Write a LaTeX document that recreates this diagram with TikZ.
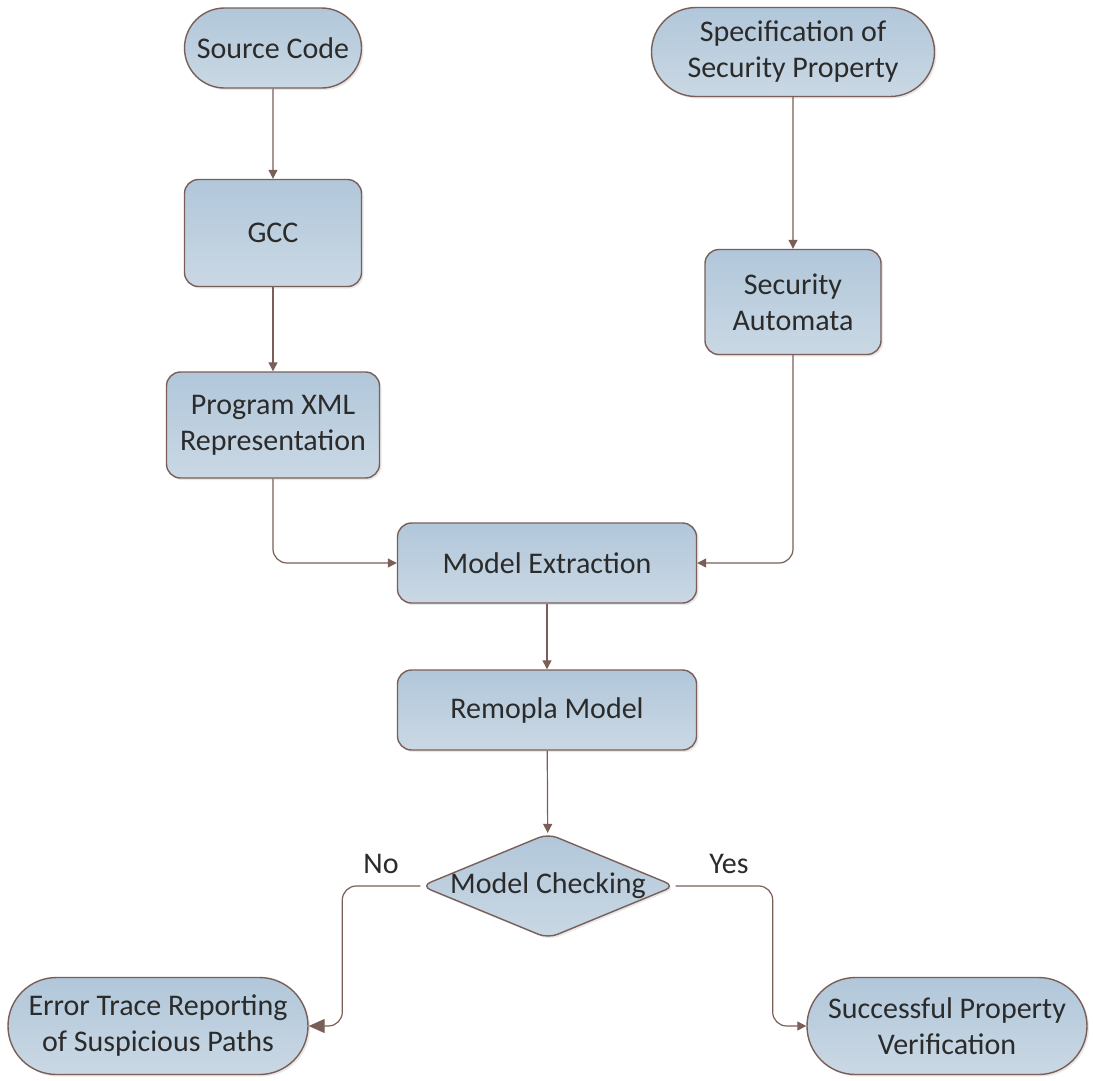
\documentclass[tikz,border=0pt]{standalone}
\usepackage{fontspec}
\setmainfont{Carlito}
\usetikzlibrary{shapes.misc,shapes.geometric,arrows.meta,shadows}
\definecolor{edgebrown}{HTML}{7A5F58}
\definecolor{fillTop}{HTML}{B1C7DA}
\definecolor{fillBot}{HTML}{CAD8E4}
\definecolor{txt}{HTML}{2B2B2B}
\tikzset{
  box/.style={draw=edgebrown, line width=1.4pt, top color=fillTop, bottom color=fillBot,
    text=txt, font=\fontsize{30}{36}\selectfont, align=center, inner sep=0pt,
    drop shadow={opacity=0.18, shadow xshift=2pt, shadow yshift=-2pt}},
  procbox/.style={box, rectangle, rounded corners=14pt},
  termbox/.style={box, rounded rectangle},
  decbox/.style={box, diamond, rounded corners=10pt},
  link/.style={draw=edgebrown, line width=1.2pt, rounded corners=14pt,
    -{Triangle[length=9pt,width=9pt]}},
  biglink/.style={draw=edgebrown, line width=1.2pt, rounded corners=14pt,
    -{Triangle[length=16pt,width=14pt]}},
  lbl/.style={text=txt, font=\fontsize{30}{36}\selectfont}
}
\begin{document}
\begin{tikzpicture}[x=1pt,y=-1pt]
  \useasboundingbox[fill=white] (0,0) rectangle (1093,1080);

  % left column: source side
  \node[termbox, minimum width=177pt, minimum height=80pt] (src) at (273,48) {Source Code};
  \node[procbox, minimum width=177pt, minimum height=107pt] (gcc) at (273,233) {GCC};
  \node[procbox, minimum width=213pt, minimum height=106pt] (xml) at (273,425) {Program XML\\Representation};

  % right column: property side
  \node[termbox, minimum width=283pt, minimum height=89pt] (spec) at (793,52) {Specification of\\Security Property};
  \node[procbox, minimum width=176pt, minimum height=105pt] (aut) at (793,302) {Security\\Automata};

  % central chain
  \node[procbox, minimum width=299pt, minimum height=80pt] (ext) at (547,563) {Model Extraction};
  \node[procbox, minimum width=299pt, minimum height=80pt] (rem) at (547,710) {Remopla Model};
  \node[decbox, minimum width=254pt, minimum height=105pt] (chk) at (548,886) {};
  \node[lbl] (chktext) at (chk) {Model Checking};

  % outcomes
  \node[termbox, minimum width=300pt, minimum height=97pt] (err) at (158,1026) {Error Trace Reporting\\of Suspicious Paths};
  \node[termbox, minimum width=280pt, minimum height=97pt] (ok) at (947,1026) {Successful Property\\Verification};

  % connectors
  \draw[link] (src) -- (gcc);
  \draw[link] (gcc) -- (xml);
  \draw[link] (spec) -- (aut);
  \draw[link] (xml.south) |- (ext.west);
  \draw[link] (aut.south) |- (ext.east);
  \draw[link] (ext) -- (rem);
  \draw[link] (rem) -- (chk);
  \draw[biglink] (chk.west) -- ++(-78,0) |- (err.east);
  \draw[link] (chk.east) -- ++(97,0) |- (ok.west);

  \node[lbl] (no) at (381,864) {No};
  \node[lbl] (yes) at (729,864) {Yes};
\end{tikzpicture}
\end{document}
